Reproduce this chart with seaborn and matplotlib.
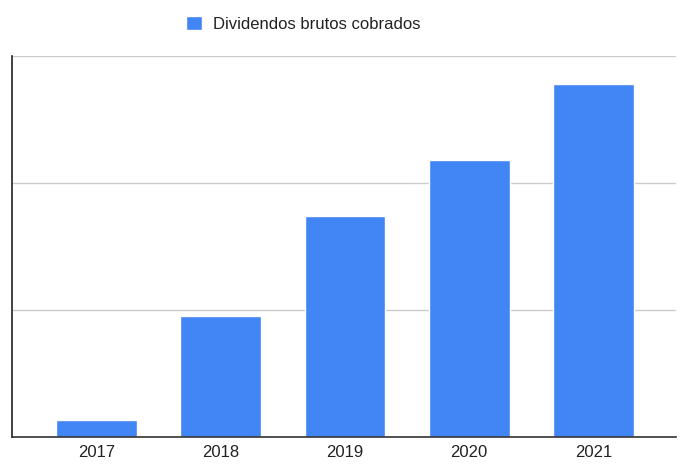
import matplotlib
matplotlib.use("Agg")
import matplotlib.pyplot as plt
import seaborn as sns
import pandas as pd

# Data (units = gridline steps)
years = ["2017", "2018", "2019", "2020", "2021"]
dividends = [0.13, 0.95, 1.74, 2.18, 2.78]
series_name = "Dividendos brutos cobrados"

sns.set_style("white")
plt.rcParams['font.family'] = ['Liberation Sans', 'DejaVu Sans']

df = pd.DataFrame({"year": years, "value": dividends})

fig = plt.figure(figsize=(6.82, 4.65), dpi=100)
ax = fig.add_axes([12 / 682, 28.3 / 465, 664 / 682, 381 / 465])

sns.barplot(data=df, x="year", y="value", color="#4285F4", width=0.65,
            saturation=1, ax=ax, label=series_name, zorder=3)

ax.set_ylim(0, 3)
ax.set_xlim(-0.68, len(years) - 1 + 0.665)
ax.set_yticks([0, 1, 2, 3])
ax.set_yticklabels([])
ax.tick_params(axis="y", length=0)
ax.tick_params(axis="x", length=0, labelsize=12, colors="#222222", pad=6)
ax.yaxis.grid(True, color="#cccccc", linewidth=1, zorder=0)
ax.set_xlabel("")
ax.set_ylabel("")

for side in ["top", "right"]:
    ax.spines[side].set_visible(False)
ax.spines["left"].set_color("#222222")
ax.spines["left"].set_linewidth(1.2)
ax.spines["bottom"].set_color("#333333")
ax.spines["bottom"].set_linewidth(1.2)
ax.spines["bottom"].set_zorder(4)

if ax.get_legend():
    ax.get_legend().remove()
handles, labels = ax.get_legend_handles_labels()
fig.legend(handles, labels, loc="center left", bbox_to_anchor=(186 / 682, 1 - 24 / 465),
           frameon=False, fontsize=12, handlelength=0.95, handleheight=0.95,
           handletextpad=0.65, borderpad=0, borderaxespad=0, labelcolor="#222222")

fig.savefig("out.png", dpi=100)
plt.close(fig)
